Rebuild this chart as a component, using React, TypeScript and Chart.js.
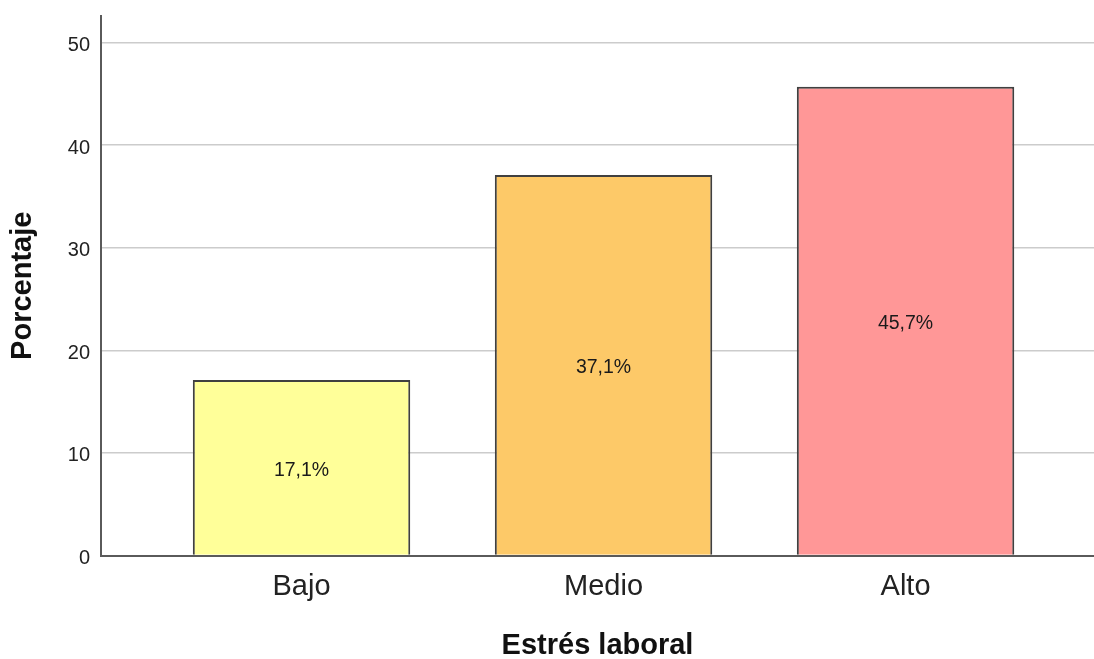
import React, { useEffect, useRef } from "react";
import { Chart, registerables } from "chart.js";

Chart.register(...registerables);

const categories = ["Bajo", "Medio", "Alto"];
const percentages = [17.1, 37.1, 45.7];
const barLabels = ["17,1%", "37,1%", "45,7%"];
const barColors = ["#ffff99", "#fdc968", "#ff9797"];
const yTicks = [0, 10, 20, 30, 40, 50];

const FONT = "'Liberation Sans', Arial, sans-serif";

const barLabelPlugin = {
  id: "barLabels",
  afterDatasetsDraw(chart: any) {
    const ctx = chart.ctx;
    const meta = chart.getDatasetMeta(0);
    ctx.save();
    ctx.fillStyle = "#1a1a1a";
    ctx.font = `19.5px ${FONT}`;
    ctx.textAlign = "center";
    ctx.textBaseline = "middle";
    meta.data.forEach((bar: any, i: number) => {
      const mid = (bar.y + bar.base) / 2;
      ctx.fillText(barLabels[i], bar.x, mid + 3);
    });
    ctx.restore();
  },
};

export default function App() {
  const ref = useRef<HTMLCanvasElement | null>(null);

  useEffect(() => {
    if (!ref.current) return;
    const chart = new Chart(ref.current, {
      type: "bar",
      data: {
        datasets: [
          {
            data: percentages.map((v, i) => ({ x: i + 1, y: v })),
            backgroundColor: barColors,
            borderColor: "#404040",
            borderWidth: 2,
            categoryPercentage: 1,
            barPercentage: 0.72,
          },
        ],
      },
      options: {
        animation: false,
        responsive: false,
        devicePixelRatio: 1,
        layout: { padding: { top: 16, left: 0, right: 0, bottom: 0 } },
        plugins: {
          legend: { display: false },
          tooltip: { enabled: false },
        },
        scales: {
          x: {
            type: "linear",
            offset: false,
            min: 0.336,
            max: 3.624,
            grid: { display: false, drawTicks: false },
            border: { display: true, color: "#5a5a5a", width: 2 },
            afterBuildTicks: (scale: any) => {
              scale.ticks = categories.map((_, i) => ({ value: i + 1 }));
            },
            afterFit: (scale: any) => {
              scale.height = 103.5;
              scale.paddingLeft = 0;
              scale.paddingRight = 0;
            },
            ticks: {
              padding: 14,
              color: "#222",
              font: { family: FONT, size: 29 },
              callback: (v: any) => categories[Number(v) - 1] ?? "",
            },
            title: {
              display: true,
              text: "Estrés laboral",
              color: "#111",
              font: { family: FONT, size: 29, weight: "bold", lineHeight: 1 },
              padding: { top: 0, bottom: -1 },
            },
          },
          y: {
            type: "linear",
            min: 0,
            max: 52.6,
            afterBuildTicks: (scale: any) => {
              scale.ticks = yTicks.map((v) => ({ value: v }));
            },
            afterFit: (scale: any) => {
              scale.width = 101;
              scale.paddingTop = 0;
              scale.paddingBottom = 0;
            },
            grid: {
              color: "#cccccc",
              lineWidth: 1.5,
              drawTicks: false,
            },
            border: { display: true, color: "#5a5a5a", width: 2 },
            ticks: {
              padding: 11,
              labelOffset: 3,
              color: "#222",
              font: { family: FONT, size: 20 },
            },
            title: {
              display: true,
              text: "Porcentaje",
              color: "#111",
              font: { family: FONT, size: 29, weight: "bold", lineHeight: 1 },
              padding: { top: 8, bottom: 0 },
            },
          },
        },
      },
      plugins: [barLabelPlugin],
    } as any);
    return () => chart.destroy();
  }, []);

  return (
    <div
      style={{
        position: "fixed",
        left: 0,
        top: 0,
        width: 1094,
        height: 659,
        background: "#fff",
        overflow: "hidden",
      }}
    >
      <canvas ref={ref} width={1094} height={659} style={{ display: "block" }} />
    </div>
  );
}
